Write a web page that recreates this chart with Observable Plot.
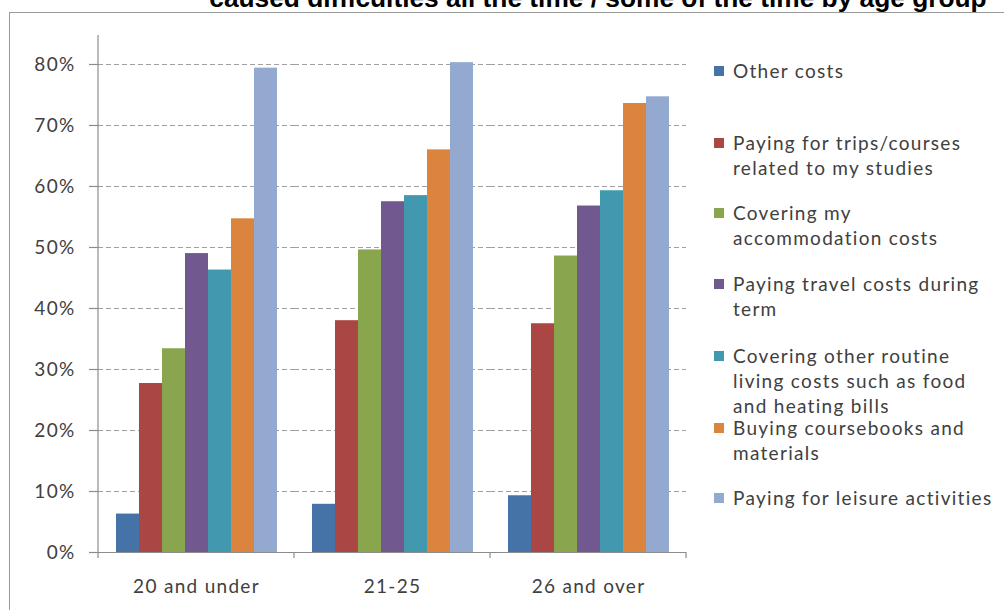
<!DOCTYPE html>
<html>
<head>
<meta charset="utf-8">
<script src="https://cdn.jsdelivr.net/npm/d3@7"></script>
<script src="https://cdn.jsdelivr.net/npm/@observablehq/plot@0.6"></script>
<style>
  html, body { margin:0; padding:0; width:1004px; height:610px; overflow:hidden; background:#fff; }
  #frame { position:absolute; left:9px; top:12px; width:1200px; height:800px; border:1.5px solid #9a9a9a; box-sizing:border-box; }
  #title { position:absolute; left:198px; width:800px; top:-15px; text-align:center; font-family:"Liberation Sans", Arial, sans-serif; font-weight:bold; font-size:26.3px; line-height:27px; color:#000; white-space:nowrap; }
  #chart { position:absolute; left:0; top:0; }
  #legend { position:absolute; left:0; top:0; font-family:Lato, sans-serif; font-size:19px; letter-spacing:1.3px; color:#404040; }
  .item { position:absolute; left:714px; }
  .sw { position:absolute; left:0; width:10px; height:10px; top:8px; }
  .txt { position:absolute; left:19px; line-height:25px; white-space:nowrap; }
</style>
</head>
<body>
<div id="frame"></div>
<div id="title">caused difficulties all the time / some of the time by age group</div>
<div id="chart"></div>
<div id="legend"></div>
<script>
const groups = ["20 and under", "21-25", "26 and over"];
const series = [
  "Other costs",
  "Paying for trips/courses related to my studies",
  "Covering my accommodation costs",
  "Paying travel costs during term",
  "Covering other routine living costs such as food and heating bills",
  "Buying coursebooks and materials",
  "Paying for leisure activities"
];
const legendLines = [
  ["Other costs"],
  ["Paying for trips/courses", "related to my studies"],
  ["Covering my", "accommodation costs"],
  ["Paying travel costs during", "term"],
  ["Covering other routine", "living costs such as food", "and heating bills"],
  ["Buying coursebooks and", "materials"],
  ["Paying for leisure activities"]
];
const values20andUnder = [6.3, 27.7, 33.4, 49.0, 46.3, 54.7, 79.4];
const values21to25     = [7.9, 38.0, 49.6, 57.5, 58.5, 66.0, 80.3];
const values26andOver  = [9.3, 37.5, 48.6, 56.8, 59.3, 73.6, 74.7];
const colors = ["#4572A7", "#AA4643", "#89A54E", "#71588F", "#4198AF", "#DB843D", "#93A9CF"];
const yTicks = [0, 0.1, 0.2, 0.3, 0.4, 0.5, 0.6, 0.7, 0.8];
const legendTops = [58, 130, 200, 271, 343, 415, 485];

const valuesByGroup = [values20andUnder, values21to25, values26andOver];
const data = groups.flatMap((g, i) => series.map((s, j) => ({group: g, series: s, value: valuesByGroup[i][j] / 100})));

const yMax = 0.8475;
const chart = Plot.plot({
  width: 1004,
  height: 610,
  marginLeft: 97,
  marginRight: 318,
  marginTop: 35,
  marginBottom: 58,
  style: {fontFamily: "Lato, sans-serif", fontSize: "19px", letterSpacing: "1.3px", color: "#404040", background: "transparent", overflow: "visible"},
  fx: {domain: groups, padding: 0, label: null, axis: null},
  x: {domain: series, paddingInner: 0, paddingOuter: 0.74, axis: null},
  y: {domain: [0, yMax], axis: null},
  color: {domain: series, range: colors},
  marks: [
    Plot.ruleY(yTicks.slice(1), {stroke: "#a0a0a0", strokeWidth: 1.2, strokeDasharray: "5,3"}),
    Plot.barY(data, {fx: "group", x: "series", y: "value", fill: "series"}),
    Plot.ruleY([0], {stroke: "#8c8c8c", strokeWidth: 1.2}),
    Plot.axisY({ticks: yTicks, tickFormat: d => Math.round(d * 100) + "%", tickSize: 9, tickPadding: 14, stroke: "#8c8c8c", strokeWidth: 1.2, label: null, fill: "#404040"}),
    Plot.axisFx({anchor: "bottom", tickSize: 0, tickPadding: 27, label: null, fill: "#404040"})
  ]
});
document.getElementById("chart").appendChild(chart);

// axis line and category boundary ticks from the library's scales
const svg = d3.select(chart);
const fx = chart.scale("fx");
const ys = chart.scale("y");
const y0 = ys.apply(0), yTop = ys.apply(yMax);
const bw = fx.bandwidth;
const edges = groups.map(g => fx.apply(g)).concat([fx.apply(groups[groups.length - 1]) + bw]);
svg.append("line").attr("x1", edges[0]).attr("x2", edges[0]).attr("y1", yTop).attr("y2", y0)
  .attr("stroke", "#8c8c8c").attr("stroke-width", 1.2);
edges.forEach(x => {
  svg.append("line").attr("x1", x).attr("x2", x).attr("y1", y0).attr("y2", y0 + 6)
    .attr("stroke", "#8c8c8c").attr("stroke-width", 1.2);
});

// legend
const legend = d3.select("#legend");
series.forEach((s, i) => {
  const item = legend.append("div").attr("class", "item").style("top", legendTops[i] + "px");
  item.append("div").attr("class", "sw").style("background", colors[i]);
  legendLines[i].forEach((line, k) => {
    item.append("div").attr("class", "txt").style("top", (k * 25) + "px").text(line);
  });
});
</script>
</body>
</html>
